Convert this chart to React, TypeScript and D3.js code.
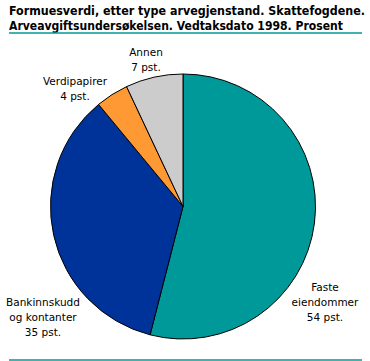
import React from "react";
import * as d3 from "d3";

const categories = ["Faste eiendommer", "Bankinnskudd og kontanter", "Verdipapirer", "Annen"];
const values = [54, 35, 4, 7];
const colors = ["#009999", "#003399", "#FF9933", "#CCCCCC"];
const labelLines = [
  ["Faste", "eiendommer", "54 pst."],
  ["Bankinnskudd", "og kontanter", "35 pst."],
  ["Verdipapirer", "4 pst."],
  ["Annen", "7 pst."],
];
const titleLines = [
  "Formuesverdi, etter type arvegjenstand. Skattefogdene.",
  "Arveavgiftsundersøkelsen. Vedtaksdato 1998. Prosent",
];
// label anchor positions (x, first baseline) per category
const labelPos: [number, number][] = [
  [325, 291],
  [43, 306],
  [75, 85],
  [146, 56],
];

export default function App() {
  const W = 370, H = 361;
  const cx = 183, cy = 206.5, r = 132.5;
  const pie = d3.pie<number>().sort(null).value((d) => d)(values);
  const arc = d3.arc<d3.PieArcDatum<number>>().innerRadius(0).outerRadius(r);
  return (
    <svg width={W} height={H} style={{ position: "absolute", left: 0, top: 0, background: "#fff" }}>
      <g fontFamily="'DejaVu Sans', Verdana, sans-serif">
        {titleLines.map((t, i) => (
          <text key={i} x={9} y={15 + i * 15} fontSize={12.5} fontWeight="bold" fill="#000"
            fontFamily="'DejaVu Sans Condensed', 'DejaVu Sans', sans-serif" fontStretch="condensed"
            textLength={i === 0 ? 356 : 334} lengthAdjust="spacingAndGlyphs">{t}</text>
        ))}
        <line x1={9} x2={362} y1={33} y2={33} stroke="#009999" strokeWidth={1.5} />
        <g transform={`translate(${cx},${cy})`}>
          {pie.map((p, i) => (
            <path key={categories[i]} d={arc(p) || ""} fill={colors[i]} stroke="#000" strokeWidth={1} />
          ))}
        </g>
        {labelLines.map((lines, i) => (
          <text key={i} textAnchor="middle" fontSize={10.5} fill="#000">
            {lines.map((l, j) => (
              <tspan key={j} x={labelPos[i][0]} y={labelPos[i][1] + j * 15}>{l}</tspan>
            ))}
          </text>
        ))}
        <line x1={9} x2={362} y1={360} y2={360} stroke="#009999" strokeWidth={1.5} />
      </g>
    </svg>
  );
}
